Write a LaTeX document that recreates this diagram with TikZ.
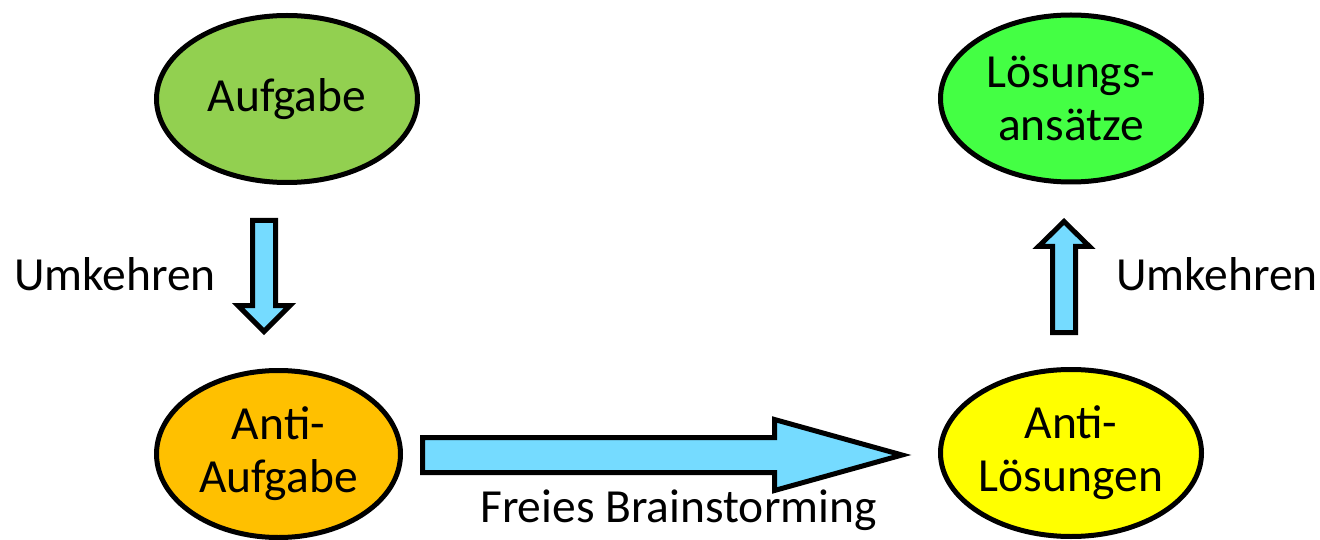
\documentclass[tikz,border=0pt]{standalone}
\usepackage{fontspec}
\setmainfont{Carlito}
\usetikzlibrary{shapes.geometric}
\definecolor{cGreen}{HTML}{92D050}
\definecolor{cLGreen}{HTML}{44FF44}
\definecolor{cOrange}{HTML}{FFC000}
\definecolor{cYellow}{HTML}{FFFF00}
\definecolor{cBlue}{HTML}{75DBFF}
\tikzset{
  oval/.style={ellipse, draw=black, line width=5pt, inner sep=0pt,
    minimum width=261pt, minimum height=167pt, align=center,
    font=\fontsize{47.5}{53}\selectfont},
  blockarrow/.style={draw=black, fill=cBlue, line width=5pt, line join=miter},
  lbl/.style={font=\fontsize{47.5}{53}\selectfont, inner sep=0pt}
}
\begin{document}
\begin{tikzpicture}[x=1pt,y=-1pt]
\useasboundingbox (0,0) rectangle (1320,540);
\node[oval, fill=cGreen] (auf) at (287,99) {Aufgabe};
\node[oval, fill=cLGreen] (loes) at (1071,98.5) {Lösungs-\\ansätze};
\node[oval, fill=cOrange, minimum width=244pt] (anti) at (278.5,454) {Anti-\\Aufgabe};
\node[oval, fill=cYellow] (antil) at (1071,453) {Anti-\\Lösungen};
% down arrow
\draw[blockarrow] (252.5,220.5) -- (275.5,220.5) -- (275.5,305.5) -- (290,305.5)
  -- (264,331.5) -- (238,305.5) -- (252.5,305.5) -- cycle;
% up arrow
\draw[blockarrow] (1052.5,332.5) -- (1075.5,332.5) -- (1075.5,246.5) -- (1089.5,246.5)
  -- (1064,221.5) -- (1038.5,246.5) -- (1052.5,246.5) -- cycle;
% right arrow
\draw[blockarrow] (422.5,437.5) -- (774.5,437.5) -- (774.5,419.5) -- (902,455)
  -- (774.5,490.5) -- (774.5,472.5) -- (422.5,472.5) -- cycle;
\node[lbl, anchor=base west] (u1) at (14,290) {Umkehren};
\node[lbl, anchor=base west] (u2) at (1116,290) {Umkehren};
\node[lbl, anchor=base west] (fb) at (480,522) {Freies Brainstorming};
\end{tikzpicture}
\end{document}
